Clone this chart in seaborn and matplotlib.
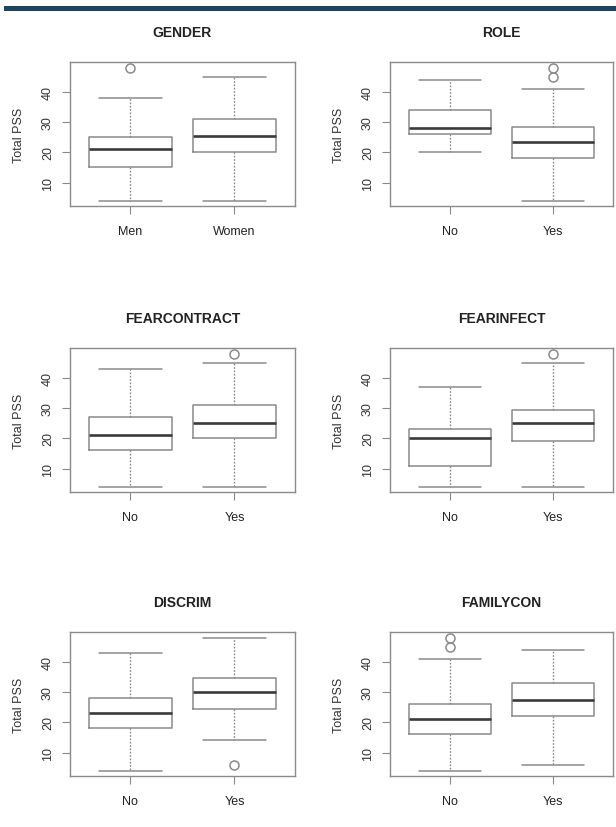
import matplotlib
matplotlib.use("Agg")
import matplotlib.pyplot as plt
import seaborn as sns
from matplotlib.patches import Rectangle

# Panel titles and group labels
panels = ["GENDER", "ROLE", "FEARCONTRACT", "FEARINFECT", "DISCRIM", "FAMILYCON"]
group_labels = [["Men", "Women"], ["No", "Yes"], ["No", "Yes"],
                ["No", "Yes"], ["No", "Yes"], ["No", "Yes"]]

# Five-number summaries (per panel: group 1, group 2)
whislo = [[4, 4], [20, 4], [4, 4], [4, 4], [4, 14], [4, 6]]
q1 = [[15, 20], [26, 18], [16, 20], [11, 19], [18, 24.5], [16, 22]]
med = [[21, 25.5], [28, 23.5], [21, 25], [20, 25], [23, 30], [21, 27.5]]
q3 = [[25, 31], [34, 28.5], [27, 31], [23, 29.5], [28, 34.5], [26, 33]]
whishi = [[38, 45], [44, 41], [43, 45], [37, 45], [43, 48], [41, 44]]
fliers = [[[48], []], [[], [45, 48]], [[], [48]],
          [[], [48]], [[], [6]], [[45, 48], []]]

y_ticks = [10, 20, 30, 40]

sns.set_style("white")
plt.rcParams["font.family"] = ["Liberation Sans", "DejaVu Sans"]

fig = plt.figure(figsize=(6.16, 8.28), dpi=100)
fig.add_artist(Rectangle((0.0065, 0.9852), 0.9935, 0.0068,
                         transform=fig.transFigure, color="#1c4563", lw=0))

lefts = [0.1136, 0.633]
bottoms = [0.75, 0.4046, 0.0616]
widths = [0.365, 0.362]
height = 0.1735

box_col = "#8a8a8a"
for i, name in enumerate(panels):
    r, c = divmod(i, 2)
    ax = fig.add_axes([lefts[c], bottoms[r], widths[c], height])
    stats = []
    for g in range(2):
        stats.append(dict(label=group_labels[i][g], whislo=whislo[i][g],
                          q1=q1[i][g], med=med[i][g], q3=q3[i][g],
                          whishi=whishi[i][g], fliers=fliers[i][g]))
    ax.bxp(stats, positions=[1, 2], widths=0.8, capwidths=0.6,
           boxprops=dict(color=box_col, lw=1.1),
           medianprops=dict(color="#3a3a3a", lw=1.9),
           whiskerprops=dict(color=box_col, lw=1.0, ls=(0, (1.2, 1.2))),
           capprops=dict(color=box_col, lw=1.1),
           flierprops=dict(marker="o", markersize=6.5, markerfacecolor="none",
                           markeredgecolor=box_col, markeredgewidth=1.1))
    ax.set_xlim(0.42, 2.58)
    ax.set_ylim(2.24, 49.76)
    ax.set_yticks(y_ticks)
    ax.set_xticks([1, 2])
    ax.set_xticklabels(group_labels[i], fontsize=9, color="#222222")
    for lab in ax.get_yticklabels():
        lab.set_rotation(90)
        lab.set_va("center")
    ax.tick_params(axis="y", labelsize=9, labelcolor="#333333", length=5.5,
                   width=0.8, color=box_col, pad=6, left=True)
    ax.tick_params(axis="x", length=5.5, width=0.8, color=box_col, pad=8,
                   bottom=True)
    for s in ax.spines.values():
        s.set_color(box_col)
        s.set_linewidth(1.0)
    ax.set_ylabel("Total PSS", fontsize=9, color="#333333", labelpad=12)
    ax.set_title(name, fontsize=10, fontweight="bold", color="#222222", pad=19)

fig.savefig("out.png", dpi=100)
